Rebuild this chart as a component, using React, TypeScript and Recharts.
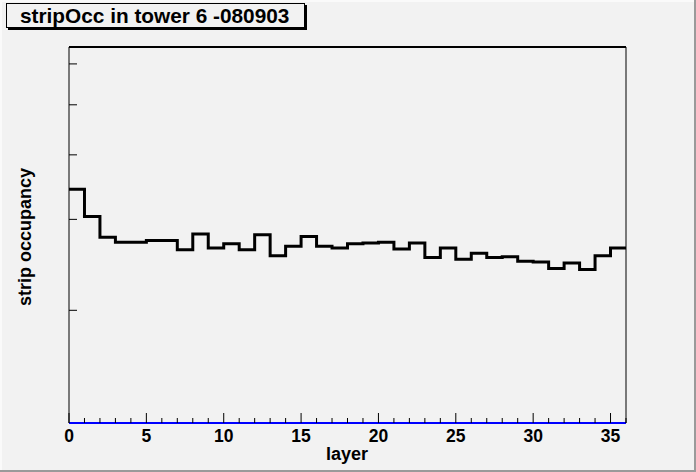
import { LineChart, Line, XAxis, YAxis } from 'recharts';

// strip occupancy per layer (arbitrary units, log axis, no labels on the original)
const occupancy = [
  3.43, 3.04, 2.77, 2.71, 2.71, 2.73, 2.73, 2.62, 2.81, 2.64,
  2.69, 2.62, 2.80, 2.55, 2.66, 2.78, 2.66, 2.64, 2.69, 2.70,
  2.71, 2.63, 2.70, 2.53, 2.64, 2.51, 2.58, 2.53, 2.54, 2.49,
  2.48, 2.41, 2.47, 2.40, 2.55, 2.64,
];

const xTicks = Array.from({ length: 37 }, (_, i) => i);
const xLabels = [0, 5, 10, 15, 20, 25, 30, 35];
const yTicks = [2, 3, 4, 5, 6];
const yDomain = [1.21, 6.47];

// histogram: each bin drawn from its low edge, closed at the upper edge
const data = [
  ...occupancy.map((v, i) => ({ layer: i, occ: v })),
  { layer: occupancy.length, occ: occupancy[occupancy.length - 1] },
];

const font = '"Liberation Sans", Arial, Helvetica, sans-serif';

function XTick(props: any) {
  const { x, y, payload } = props;
  const v = payload.value;
  const major = v % 5 === 0;
  return (
    <g>
      <line x1={x} x2={x} y1={y} y2={y - (major ? 10 : 5)} stroke="#000" strokeWidth={1} />
      {xLabels.includes(v) && (
        <text x={x} y={y + 19} textAnchor="middle" fontFamily={font} fontWeight="bold" fontSize={17.5} fill="#000">
          {v}
        </text>
      )}
    </g>
  );
}

function YTick(props: any) {
  const { x, y } = props;
  return <line x1={x} x2={x + 8} y1={y} y2={y} stroke="#000" strokeWidth={1} />;
}

export default function App() {
  return (
    <div
      style={{
        position: 'relative',
        width: 696,
        height: 472,
        background: '#f2f2f2',
        boxShadow: 'inset -2px -2px 0 #9a9a9a, inset 2px 2px 0 #fafafa',
        overflow: 'hidden',
      }}
    >
      <style>{'body{margin:0}'}</style>
      <LineChart
        width={696}
        height={472}
        data={data}
        margin={{ top: 46, right: 69, bottom: 48, left: 68 }}
        style={{ position: 'absolute', left: 0, top: 0 }}
      >
        <XAxis
          dataKey="layer"
          type="number"
          domain={[0, 36]}
          ticks={xTicks}
          interval={0}
          height={1}
          tickSize={0}
          tickMargin={0}
          tickLine={false}
          tick={<XTick />}
          axisLine={{ stroke: '#0000ff', strokeWidth: 2 }}
        />
        <XAxis
          xAxisId="top"
          orientation="top"
          type="number"
          domain={[0, 36]}
          height={1}
          tick={false}
          tickLine={false}
          axisLine={{ stroke: '#000', strokeWidth: 2 }}
        />
        <YAxis
          type="number"
          scale="log"
          domain={yDomain}
          allowDataOverflow
          ticks={yTicks}
          interval={0}
          width={1}
          tickSize={0}
          tickMargin={0}
          tickLine={false}
          tick={<YTick />}
          axisLine={{ stroke: '#000', strokeWidth: 1 }}
          label={() => (
            <text
              x={31}
              y={237}
              transform="rotate(-90, 31, 237)"
              textAnchor="middle"
              fontFamily={font}
              fontWeight="bold"
              fontSize={18}
              fill="#000"
            >
              strip occupancy
            </text>
          )}
        />
        <YAxis
          yAxisId="right"
          orientation="right"
          type="number"
          domain={yDomain}
          width={1}
          tick={false}
          tickLine={false}
          axisLine={{ stroke: '#000', strokeWidth: 1 }}
        />
        <Line
          dataKey="occ"
          type="stepAfter"
          stroke="#000"
          strokeWidth={3}
          dot={false}
          activeDot={false}
          isAnimationActive={false}
        />
        <text x={347} y={460} textAnchor="middle" fontFamily={font} fontWeight="bold" fontSize={18} fill="#000">
          layer
        </text>
      </LineChart>
      <div
        style={{
          position: 'absolute',
          left: 6,
          top: 3,
          width: 284,
          height: 23,
          border: '1px solid #000',
          boxShadow: '2px 2px 0 #000',
          background: '#f2f2f2',
          fontFamily: font,
          fontWeight: 'bold',
          fontSize: 20.8,
          lineHeight: '23px',
          paddingLeft: 13,
          boxSizing: 'content-box',
          whiteSpace: 'nowrap',
        }}
      >
        stripOcc in tower 6 -080903
      </div>
    </div>
  );
}
